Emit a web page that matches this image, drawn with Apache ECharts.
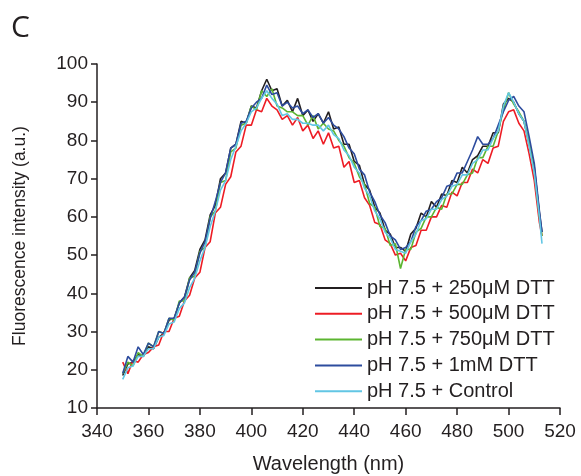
<!DOCTYPE html>
<html>
<head>
<meta charset="utf-8">
<script src="https://cdn.jsdelivr.net/npm/echarts@6/dist/echarts.min.js"></script>
<style>html,body{margin:0;padding:0;background:#fff;}#c{width:581px;height:476px;}</style>
</head>
<body>
<div id="c"></div>
<script>
var wavelengths = [350,352,354,356,358,360,362,364,366,368,370,372,374,376,378,380,382,384,386,388,390,392,394,396,398,400,402,404,406,408,410,412,414,416,418,420,422,424,426,428,430,432,434,436,438,440,442,444,446,448,450,452,454,456,458,460,462,464,466,468,470,472,474,476,478,480,482,484,486,488,490,492,494,496,498,500,502,504,506,508,510,512,513];
var seriesNames = ["pH 7.5 + 250\u03bcM DTT","pH 7.5 + 500\u03bcM DTT","pH 7.5 + 750\u03bcM DTT","pH 7.5 + 1mM DTT","pH 7.5 + Control"];
var dtt250 = [18.5,21.5,22,24,23.5,26,25.5,28.5,29.5,33,33.5,37.5,39,44,46,51.5,54,60.5,63,70,71.5,78,79,85,84.5,89,88.5,93,96,93,93.5,89,90.5,87.5,91,86.5,88,85,87,84.5,87.5,83,83.5,79,79,74.5,73.5,68.5,67,62.5,61,56.5,55.5,52,52,51,55.5,57,61,60,64,62.5,66,65.5,69.5,69,73,71.5,75,76,78.5,78.5,82,82,89.5,91,90,87,85,79,73,61,56];
var dtt500 = [22,19,22.5,22,24,24.5,26,26.5,30,30,33.5,34,38,39.5,44,45.5,52,53.5,61,62.5,68.5,70.5,77,78.5,84,84,88,87.5,91,89,88,85.5,86.5,84,86,82.5,84,80.5,82.5,79,82,78,78.5,73,74.5,69,69.5,65,63,58.5,58,54,53,50,50.5,48.5,52,52.5,56.5,56.5,60,60,63,62.5,66.5,65.5,69,69,72.5,71.5,75,74,78,78.5,85,87.5,88,84.5,82.5,76.5,69.5,58.5,55];
var dtt750 = [19,22,21,24.5,23.5,27,26,30,29.5,33.5,33,38,38,44,44.5,51,52,60,61.5,69,69.5,77,78,84,84.5,89,88,93,91.5,93.5,89,88.5,87.5,87.5,86.5,86.5,84,86.5,83,84.5,83,82.5,80,78.5,75.5,74,70.5,68.5,63.5,62.5,57.5,57,52.5,53,46.5,51.5,51.5,56,57,60,60,62.5,62,66,66,68.5,68.5,71,71.5,75.5,75.5,78.5,78.5,82.5,88,92.5,89.5,87.5,85,79.5,72,60,55];
var dtt1mM = [19,23.5,22,26,24,27,26,30,29.5,33.5,33.5,37.5,39,43.5,45.5,50.5,53.5,59.5,64,69,71.5,78,79,84.5,85,88.5,90,91,94.5,92,92.5,89,90,88.5,89,87,88,86,87,84.5,86,84,83,81,78,76.5,72.5,71,66.5,64,60.5,58.5,55,54,51.5,52,53.5,57.5,59,61.5,62,64,65,68,68.5,71.5,71.5,74.5,77.5,81,79,79,80.5,84,87.5,90.5,91.5,89,87.5,81,74,61.5,56];
var control = [17.5,20.5,21,23.5,23.5,25.5,25.5,28.5,29,32,32.5,36,37.5,41.5,44,48.5,52,57.5,61.5,67,69.5,75,78.5,82.5,84.5,87.5,88.5,91,93,91,89.5,86.5,87,85.5,85.5,84.5,84.5,84,84,82.5,84,81.5,80.5,77.5,76,73,71.5,67.5,65.5,61.5,59.5,56,54.5,51.5,51,50.5,53.5,55.5,59,59.5,62,62,64.5,65.5,68,68.5,71,71,74,75,77.5,77.5,80.5,82.5,89,92.5,90,87,85,78.5,71.5,60,53];
var xTicks = [340,360,380,400,420,440,460,480,500,520];
var yTicks = [10,20,30,40,50,60,70,80,90,100];

var colors = ["#231f20","#ed1c24","#5cb531","#2d4c9e","#62c6e4"];
var allValues = [dtt250, dtt500, dtt750, dtt1mM, control];
var FONT = "Liberation Sans, Arial, sans-serif";

var series = allValues.map(function(vals, i){
  return {
    name: seriesNames[i],
    type: 'line',
    showSymbol: false,
    symbol: 'none',
    animation: false,
    lineStyle: {color: colors[i], width: 1.6},
    itemStyle: {color: colors[i]},
    data: wavelengths.map(function(w, j){ return [w, vals[j]]; })
  };
});

var chart = echarts.init(document.getElementById('c'));
chart.setOption({
  animation: false,
  backgroundColor: '#fff',
  grid: {left: 97, right: 21, top: 64, bottom: 68, containLabel: false, outerBoundsMode: 'none'},
  graphic: [{type: 'text', left: 11, top: 13, style: {text: 'C', fontSize: 30, fontFamily: 'Open Sans, sans-serif', fill: '#231f20'}}],
  legend: {
    orient: 'vertical', left: 315, top: 278, padding: 0,
    icon: 'rect', itemWidth: 47, itemHeight: 2, itemGap: 5.8,
    textStyle: {fontSize: 20, fontFamily: FONT, color: '#231f20', lineHeight: 20},
    data: seriesNames
  },
  xAxis: {
    type: 'value', min: xTicks[0], max: xTicks[xTicks.length-1], interval: 20,
    name: 'Wavelength (nm)', nameLocation: 'middle', nameGap: 46,
    nameTextStyle: {fontSize: 20, fontFamily: FONT, color: '#231f20'},
    axisLine: {lineStyle: {color: '#231f20', width: 1.5}},
    axisTick: {length: 7, lineStyle: {color: '#231f20', width: 1.5}},
    axisLabel: {fontSize: 19, fontFamily: FONT, color: '#231f20', margin: 14},
    splitLine: {show: false}
  },
  yAxis: {
    type: 'value', min: yTicks[0], max: yTicks[yTicks.length-1], interval: 10,
    name: 'Fluorescence intensity (a.u.)', nameLocation: 'middle', nameGap: 68,
    nameTextStyle: {fontSize: 17.5, fontFamily: FONT, color: '#231f20'},
    axisLine: {show: true, lineStyle: {color: '#231f20', width: 1.5}},
    axisTick: {show: true, length: 6, lineStyle: {color: '#231f20', width: 1.5}},
    axisLabel: {fontSize: 19, fontFamily: FONT, color: '#231f20', margin: 9},
    splitLine: {show: false}
  },
  series: series
});
</script>
</body>
</html>
